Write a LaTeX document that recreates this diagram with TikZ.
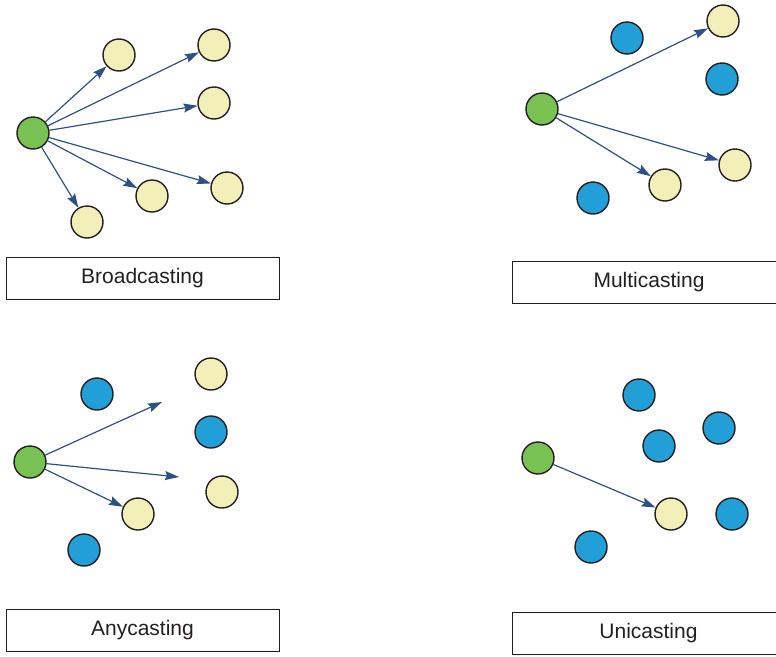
\documentclass[tikz,border=0pt]{standalone}
\usepackage{fontspec}
\setmainfont{Liberation Sans}
\usetikzlibrary{arrows.meta}

\definecolor{srcgreen}{RGB}{122,193,84}
\definecolor{rxyellow}{RGB}{243,239,185}
\definecolor{idleblue}{RGB}{35,159,215}
\definecolor{arrowblue}{RGB}{47,80,135}
\definecolor{rimgray}{RGB}{35,31,32}

\begin{document}
\begin{tikzpicture}[x=1pt, y=-1pt,
    host/.style={circle, draw=rimgray, line width=1.4pt, minimum size=32pt, inner sep=0pt},
    src/.style={host, fill=srcgreen},
    rx/.style={host, fill=rxyellow},
    idle/.style={host, fill=idleblue},
    send/.style={draw=arrowblue, line width=1.2pt, -{Stealth[length=14pt, width=9pt, inset=2pt]}},
    caption/.style={draw=rimgray, line width=1pt, minimum width=273pt, minimum height=42pt,
        inner sep=0pt, text=rimgray, font=\fontsize{21}{25}\selectfont}]
    \clip (0,0) rectangle (776,656);

    % broadcasting
    \node[src] (bsrc) at (33,133) {};
    \node[rx] (brx1) at (119,55) {};
    \node[rx] (brx2) at (214,45) {};
    \node[rx] (brx3) at (214,103) {};
    \node[rx] (brx4) at (227,188) {};
    \node[rx] (brx5) at (152,196) {};
    \node[rx] (brx6) at (87,222) {};
    \foreach \n in {1,...,6} {
        \draw[send] (bsrc) -- (brx\n);
    }
    \node[caption] (bcap) at (142.5,278) {Broadcasting};

    % multicasting
    \node[src] (msrc) at (542,109) {};
    \node[idle] (midle1) at (627,38) {};
    \node[idle] (midle2) at (722,79) {};
    \node[idle] (midle3) at (593,198) {};
    \node[rx] (mrx1) at (723,21) {};
    \node[rx] (mrx2) at (735,165) {};
    \node[rx] (mrx3) at (665,185) {};
    \foreach \n in {1,...,3} {
        \draw[send] (msrc) -- (mrx\n);
    }
    \node[caption] (mcap) at (649,282.5) {Multicasting};

    % anycasting
    \node[src] (asrc) at (30,462) {};
    \node[idle] (aidle1) at (97,394) {};
    \node[idle] (aidle2) at (211,432) {};
    \node[idle] (aidle3) at (84,550) {};
    \node[rx] (arx1) at (211,374) {};
    \node[rx] (arx2) at (222,492) {};
    \node[rx] (arx3) at (138,514) {};
    \coordinate (aend1) at (162,402);
    \coordinate (aend2) at (179,477);
    \draw[send] (asrc) -- (aend1);
    \draw[send] (asrc) -- (aend2);
    \draw[send] (asrc) -- (arx3);
    \node[caption] (acap) at (142.5,630) {Anycasting};

    % unicasting
    \node[src] (usrc) at (538,458) {};
    \node[idle] (uidle1) at (639,395) {};
    \node[idle] (uidle2) at (659,446) {};
    \node[idle] (uidle3) at (719,428) {};
    \node[idle] (uidle4) at (732,514) {};
    \node[idle] (uidle5) at (591,547) {};
    \node[rx] (urx) at (671,514) {};
    \draw[send] (usrc) -- (urx);
    \node[caption] (ucap) at (648.5,633.5) {Unicasting};
\end{tikzpicture}
\end{document}
